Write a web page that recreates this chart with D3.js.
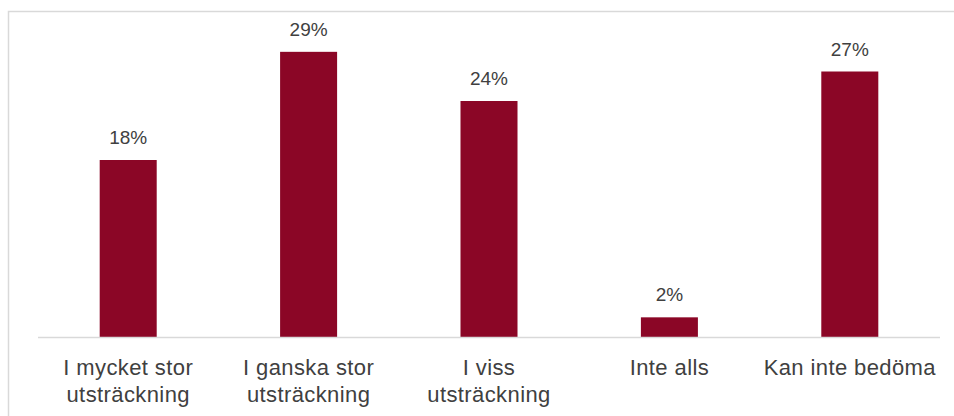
<!DOCTYPE html>
<html>
<head>
<meta charset="utf-8">
<script src="https://cdn.jsdelivr.net/npm/d3@7"></script>
<style>
  html, body { margin: 0; padding: 0; background: #fff; }
  svg { display: block; }
</style>
</head>
<body>
<div id="chart"></div>
<script>
// Survey answers: share of respondents per response option
const categories = [
  ["I mycket stor", "utsträckning"],
  ["I ganska stor", "utsträckning"],
  ["I viss", "utsträckning"],
  ["Inte alls"],
  ["Kan inte bedöma"]
];
const values = [18, 29, 24, 2, 27];
const valueLabels = ["18%", "29%", "24%", "2%", "27%"];

const width = 954, height = 416;
const baseY = 337;

const svg = d3.select("#chart").append("svg")
  .attr("width", width)
  .attr("height", height);

// outer chart frame
svg.append("rect")
  .attr("x", 8.5).attr("y", 11.5)
  .attr("width", 1000).attr("height", 500)
  .attr("fill", "none")
  .attr("stroke", "#d9d9d9")
  .attr("stroke-width", 1.5);

const x = d3.scaleBand()
  .domain(d3.range(categories.length))
  .range([38, 940])
  .paddingInner(0.684)
  .paddingOuter(0.342);

const y = d3.scaleLinear()
  .domain([0, 30])
  .range([baseY, 42]);

// bars
svg.append("g").selectAll("rect")
  .data(values)
  .join("rect")
  .attr("x", (d, i) => x(i))
  .attr("y", d => y(d))
  .attr("width", x.bandwidth())
  .attr("height", d => baseY - y(d))
  .attr("fill", "#8b0626");

// category axis line
svg.append("line")
  .attr("x1", 38).attr("x2", 940)
  .attr("y1", baseY + 0.5).attr("y2", baseY + 0.5)
  .attr("stroke", "#d9d9d9")
  .attr("stroke-width", 1.5);

// value labels above bars
svg.append("g").selectAll("text")
  .data(values)
  .join("text")
  .attr("x", (d, i) => x(i) + x.bandwidth() / 2)
  .attr("y", d => y(d) - 16)
  .attr("text-anchor", "middle")
  .attr("font-family", "'Liberation Sans', Arial, sans-serif")
  .attr("font-size", 19)
  .attr("fill", "#404040")
  .text((d, i) => valueLabels[i]);

// category labels, possibly on two lines
const catG = svg.append("g")
  .attr("font-family", "'Liberation Sans', Arial, sans-serif")
  .attr("font-size", 22)
  .attr("letter-spacing", 0.4)
  .attr("fill", "#404040")
  .attr("text-anchor", "middle");

categories.forEach((lines, i) => {
  const cx = x(i) + x.bandwidth() / 2;
  const t = catG.append("text")
    .attr("x", cx)
    .attr("y", 375);
  lines.forEach((ln, j) => {
    t.append("tspan")
      .attr("x", cx)
      .attr("dy", j === 0 ? 0 : 27)
      .text(ln);
  });
});
</script>
</body>
</html>
